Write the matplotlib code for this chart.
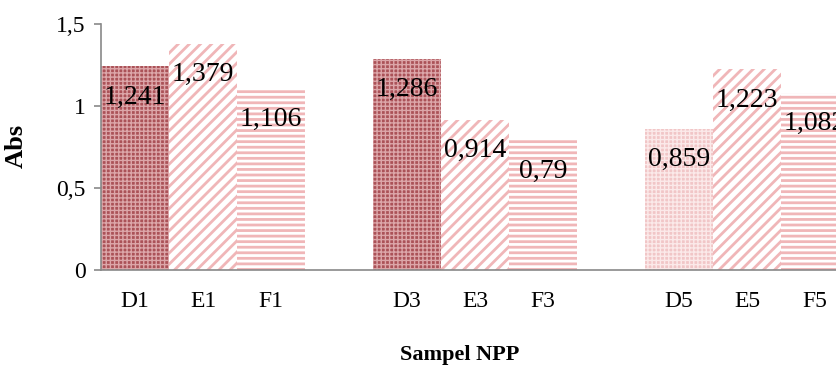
import matplotlib.pyplot as plt

plt.rcParams['font.family'] = ['Liberation Serif', 'DejaVu Serif']

# absorbance per sample, three groups of D/E/F
labels = ['D1', 'E1', 'F1', 'D3', 'E3', 'F3', 'D5', 'E5', 'F5']
values = [1.241, 1.379, 1.106, 1.286, 0.914, 0.79, 0.859, 1.223, 1.082]
positions = [0, 1, 2, 4, 5, 6, 8, 9, 10]
yticks = [0, 0.5, 1, 1.5]
ytick_labels = ['0', '0,5', '1', '1,5']

# fill style per bar: (face, hatch colour, hatch, hatch width)
dark_check = ('#ab5258', '#dca6a9', '++++', 1.0)
light_check = ('#f1c6c7', '#fbe9e9', '++++', 1.0)
diag = ('white', '#f0b6b8', '///', 2.0)
horiz = ('white', '#f0b6b8', '---', 2.0)
styles = [dark_check, diag, horiz, dark_check, diag, horiz, light_check, diag, horiz]

fig = plt.figure(figsize=(8.37, 3.72), dpi=100)
ax = fig.add_axes([101 / 837, 102 / 372, 748 / 837, 246 / 372])

for x, v, (face, hcol, hatch, hlw) in zip(positions, values, styles):
    with plt.rc_context({'hatch.linewidth': hlw}):
        bar = ax.bar(x, v, width=1.0, color=face, edgecolor=hcol,
                     hatch=hatch, linewidth=0)
    for p in bar:
        if hasattr(p, 'set_hatch_linewidth'):
            p.set_hatch_linewidth(hlw)
    ax.annotate(f'{v:g}'.replace('.', ','), (x, v), xytext=(0, -22),
                textcoords='offset points', ha='center', va='center',
                fontsize=20)

ax.set_xlim(-0.5, 10.5)
ax.set_ylim(0, 1.5)
ax.set_xticks(positions)
ax.set_xticklabels(labels, fontsize=17)
ax.tick_params(axis='x', length=0, pad=15)
ax.set_yticks(yticks)
ax.set_yticklabels(ytick_labels, fontsize=17)
ax.tick_params(axis='y', length=5, color='#898989', width=1.2, pad=6)

for side in ['top', 'right']:
    ax.spines[side].set_visible(False)
for side in ['left', 'bottom']:
    ax.spines[side].set_color('#898989')
    ax.spines[side].set_linewidth(1.2)

fig.text(460 / 837, 17 / 372, 'Sampel NPP', ha='center', va='center',
         fontsize=16, fontweight='bold')
fig.text(16 / 837, 226 / 372, 'Abs', ha='center', va='center',
         fontsize=19, fontweight='bold', rotation=90)

fig.savefig('out.png', dpi=100)
